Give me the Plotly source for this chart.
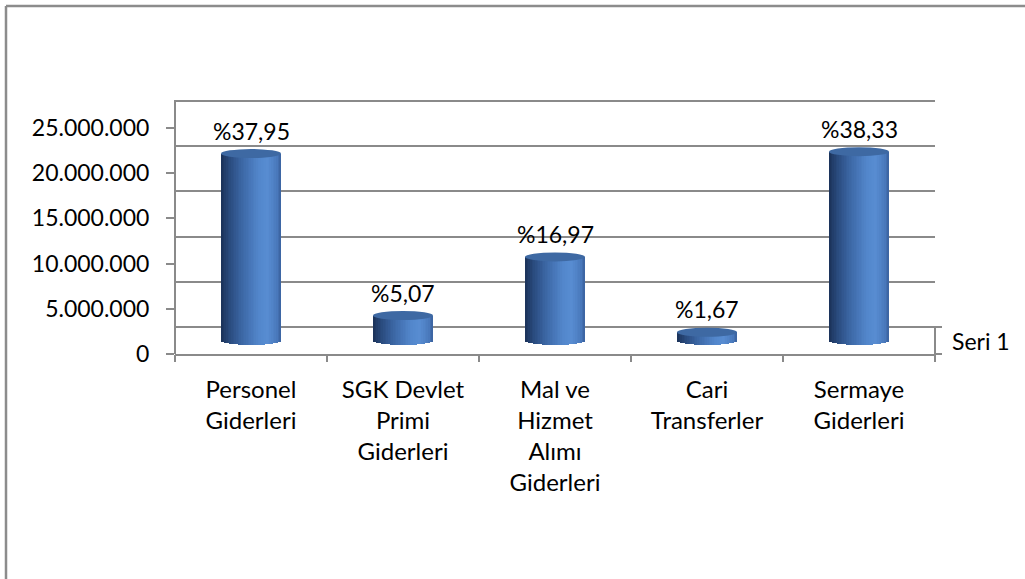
import numpy as np
import plotly.graph_objects as go

# Expenditure categories (economic classification)
categories = [
    "Personel<br>Giderleri",
    "SGK Devlet<br>Primi<br>Giderleri",
    "Mal ve<br>Hizmet<br>Alımı<br>Giderleri",
    "Cari<br>Transferler",
    "Sermaye<br>Giderleri",
]
amounts = [20_680_000, 2_763_000, 9_248_000, 910_000, 20_889_000]
shares = [37.95, 5.07, 16.97, 1.67, 38.33]
series_name = "Seri 1"
y_ticks = [0, 5_000_000, 10_000_000, 15_000_000, 20_000_000, 25_000_000]

W, H = 1025, 579
FONT = "Lato"
GRID = "#8a8a8a"

# plot box in pixels
PX_L, PX_R = 175, 935
PX_T, PX_B = 94, 354          # a little headroom above the wall's top edge
WALL_TOP = 100
PX_PER_UNIT = 226 / 25_000_000          # front-plane vertical scale
Y_MAX = (PX_B - PX_T) / PX_PER_UNIT
DEPTH = 27 / PX_PER_UNIT                # floor depth in value units

def px_x(p):
    return p / W

def px_y(p):
    return 1 - p / H

x_dom = [px_x(PX_L), px_x(PX_R)]
y_dom = [px_y(PX_B), px_y(PX_T)]

# cylinder geometry
BAR_W = 60 / 152                        # fraction of one category slot
HALF_W = BAR_W / 2
ELL = 4.5 / PX_PER_UNIT                 # half-height of the end ellipses

stops_u = [-1.0, -0.75, -0.3, 0.25, 0.55, 0.85, 1.0]
stops_c = np.array([
    (27, 50, 88), (40, 72, 122), (60, 103, 165), (82, 134, 203),
    (88, 141, 210), (74, 122, 189), (58, 98, 158)
], dtype=float)

def shade(u):
    rgb = [np.interp(u, stops_u, stops_c[:, i]) for i in range(3)]
    return "rgb(%d,%d,%d)" % tuple(int(round(c)) for c in rgb)

fig = go.Figure()

idx = np.arange(len(categories))
N = 36
strip = BAR_W / N
for k in range(N):
    u = -1 + (2 * k + 1) / N
    sag = ELL * np.sqrt(max(0.0, 1 - u * u))
    base = [-sag] * len(amounts)
    height = [a + sag for a in amounts]
    fig.add_trace(go.Bar(
        x=idx, y=height, base=base,
        width=strip * 1.25, offset=-HALF_W + k * strip,
        marker=dict(color=shade(u), line=dict(width=0)),
        yaxis="y3", showlegend=False, hoverinfo="skip",
    ))

shapes = []
# cylinder tops
for i, a in enumerate(amounts):
    shapes.append(dict(
        type="circle", xref="x", yref="y3",
        x0=i - HALF_W, x1=i + HALF_W, y0=a - ELL, y1=a + ELL,
        fillcolor="#3e69a3", line=dict(width=0), layer="above",
    ))

y_back = PX_B - 27
shapes += [
    # left wall edge
    dict(type="line", xref="paper", yref="paper",
         x0=px_x(PX_L), x1=px_x(PX_L), y0=px_y(PX_B), y1=px_y(WALL_TOP),
         line=dict(color=GRID, width=2)),
    # depth axis on the right edge of the floor
    dict(type="line", xref="paper", yref="paper",
         x0=px_x(PX_R), x1=px_x(PX_R), y0=px_y(y_back), y1=px_y(PX_B + 6),
         line=dict(color=GRID, width=2)),
    dict(type="line", xref="paper", yref="paper",
         x0=px_x(PX_R), x1=px_x(PX_R + 7), y0=px_y(y_back), y1=px_y(y_back),
         line=dict(color=GRID, width=2)),
    dict(type="line", xref="paper", yref="paper",
         x0=px_x(PX_R), x1=px_x(PX_R + 7), y0=px_y(PX_B), y1=px_y(PX_B),
         line=dict(color=GRID, width=2)),
    # chart frame (left and top edges; the rest runs off the page)
    dict(type="line", xref="paper", yref="paper",
         x0=px_x(6), x1=px_x(6), y0=0, y1=px_y(6),
         line=dict(color="#8c8c8c", width=2.5)),
    dict(type="line", xref="paper", yref="paper",
         x0=px_x(6), x1=1, y0=px_y(6), y1=px_y(6),
         line=dict(color="#8c8c8c", width=2.5)),
]

annotations = [
    dict(x=i, y=a, xref="x", yref="y3", yanchor="bottom", yshift=7,
         text="%" + f"{s:.2f}".replace(".", ","), showarrow=False,
         font=dict(family=FONT, size=23, color="#000"))
    for i, (a, s) in enumerate(zip(amounts, shares))
]
annotations.append(dict(
    x=px_x(PX_R + 15), y=px_y(PX_B - 13), xref="paper", yref="paper",
    xanchor="left", yanchor="middle", text=series_name, showarrow=False,
    font=dict(family=FONT, size=23, color="#000"),
))

fig.update_layout(
    width=W, height=H, autosize=False,
    margin=dict(l=0, r=0, t=0, b=0, pad=0),
    paper_bgcolor="white", plot_bgcolor="rgba(0,0,0,0)",
    separators=",.",
    barmode="overlay", bargap=0,
    showlegend=False,
    font=dict(family=FONT, color="#000"),
    xaxis=dict(
        domain=x_dom, type="linear", range=[-0.5, len(categories) - 0.5],
        tickvals=list(idx), ticktext=categories,
        showline=True, linecolor=GRID, linewidth=2,
        ticks="", showgrid=False, zeroline=False,
        tickfont=dict(family=FONT, size=24, color="#000"),
        ticklabelstandoff=13, automargin=False,
    ),
    xaxis2=dict(
        domain=x_dom, overlaying="x", anchor="y",
        range=[-0.5, len(categories) - 0.5],
        tickvals=[i - 0.5 for i in range(len(categories) + 1)],
        ticks="outside", ticklen=7, tickwidth=2, tickcolor=GRID,
        showticklabels=False, showgrid=False, zeroline=False, showline=False,
        side="bottom", automargin=False,
    ),
    yaxis=dict(
        domain=y_dom, range=[0, Y_MAX], anchor="x",
        tickvals=y_ticks, tickformat=",d",
        ticks="outside", ticklen=8, tickwidth=2, tickcolor=GRID,
        showline=False, showgrid=False, zeroline=False,
        tickfont=dict(family=FONT, size=23, color="#000"),
        ticklabelstandoff=12, automargin=False,
    ),
    yaxis2=dict(
        domain=y_dom, overlaying="y", anchor="x",
        range=[-DEPTH, Y_MAX - DEPTH],
        tickvals=y_ticks, showticklabels=False, ticks="",
        showgrid=True, gridcolor=GRID, gridwidth=2, zeroline=False,
        showline=False, automargin=False,
    ),
    yaxis3=dict(
        domain=y_dom, overlaying="y", anchor="x",
        range=[-DEPTH / 2, Y_MAX - DEPTH / 2],
        visible=False, showgrid=False, zeroline=False, automargin=False,
    ),
    shapes=shapes,
    annotations=annotations,
)

# empty traces so the front value axis, the back wall grid and the
# category boundary ticks are all drawn
fig.add_trace(go.Scatter(x=[None], y=[None], yaxis="y", xaxis="x",
                         showlegend=False, hoverinfo="skip"))
fig.add_trace(go.Scatter(x=[None], y=[None], yaxis="y2", xaxis="x2",
                         showlegend=False, hoverinfo="skip"))

fig.write_html("out.html", config={"responsive": False, "displayModeBar": False})
